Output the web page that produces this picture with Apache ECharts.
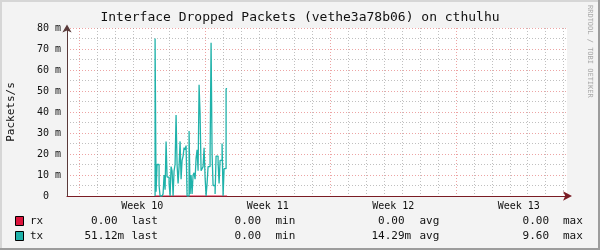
<!DOCTYPE html>
<html><head><meta charset="utf-8">
<script src="https://cdn.jsdelivr.net/npm/echarts@6/dist/echarts.min.js"></script>
<style>html,body{margin:0;padding:0;background:#f3f3f3}#c{width:600px;height:250px}</style>
</head><body><div id="c"></div>
<script>
// ---- data (x in hours from start of Week 10, values in milli-packets/s) ----
const weekLabels = ['Week 10', 'Week 11', 'Week 12', 'Week 13'];
const weekCenterHours = [84, 252, 420, 588];
const dayBoundaryHours = [0,24,48,72,96,120,144,168,192,216,240,264,288,312,336,360,384,408,432,456,480,504,528,552,576,600,624,648];
const axisMinHours = -16.7;
const axisMaxHours = 652.6;
const dataStartHours = 101.2;
const dataStepHours = 1.3387;
const txMilli = [0,75,2,15,15,5,0,0,0,1,10,3,26,9,9,6,0,14,12,0,12,15,38.6,15,6,14,26,8,17,19,23,22,24,0,0,31,1,10,1,10,11,8,18,22,12,53,39,12,13,14,23,9,0,6,14,14,20,73,20,5,5,1,19,19,16,6,17,17,25,0,13,13,51.12];
const rxMilli = txMilli.map(() => 0);
const legendNames = ['rx', 'tx'];
const legendColors = ['#DC143C', '#20B2AA'];
const statNames = ['last', 'min', 'avg', 'max'];
const rxStats = ['0.00', '0.00', '0.00', '0.00'];
const rxUnits = ['', '', '', ''];
const txStats = ['51.12', '0.00', '14.29', '9.60'];
const txUnits = ['m', '', 'm', ''];

const times = txMilli.map((_, i) => dataStartHours + i * dataStepHours);
const MONO = 'DejaVu Sans Mono';
const dayColors = dayBoundaryHours.map((h) => (h % 168 === 0 ? 'rgba(222,90,90,0.55)' : 'rgba(150,150,150,0.6)'));

const chart = echarts.init(document.getElementById('c'), null, {renderer: 'canvas'});

const digitRight = [117.5, 261, 404.5, 549];
const nameLeft = [131.5, 275.5, 419.5, 563];
const rowY = [221, 236];
const graphics = [
  {type: 'rect', shape: {x: 0, y: 0, width: 600, height: 2}, style: {fill: '#d6d6d6'}, silent: true},
  {type: 'rect', shape: {x: 0, y: 0, width: 2, height: 250}, style: {fill: '#d6d6d6'}, silent: true},
  {type: 'rect', shape: {x: 598, y: 0, width: 2, height: 250}, style: {fill: '#9c9c9c'}, silent: true},
  {type: 'rect', shape: {x: 0, y: 248, width: 600, height: 2}, style: {fill: '#9c9c9c'}, silent: true},
  {type: 'text', x: 590, y: 5, rotation: -Math.PI / 2, style: {text: 'RRDTOOL / TOBI OETIKER', font: '7px ' + MONO, fill: '#a8a8a8', align: 'left', verticalAlign: 'middle'}, silent: true},
  {type: 'text', x: 11, y: 112, rotation: Math.PI / 2, style: {text: 'Packets/s', font: '11px ' + MONO, fill: '#111', align: 'center', verticalAlign: 'middle'}, silent: true}
];
legendNames.forEach((name, r) => {
  const stats = r === 0 ? rxStats : txStats;
  const units = r === 0 ? rxUnits : txUnits;
  graphics.push({type: 'rect', shape: {x: 15.5, y: rowY[r] - 4.5, width: 8, height: 9}, style: {fill: legendColors[r], stroke: '#000', lineWidth: 1}, silent: true});
  graphics.push({type: 'text', x: 30, y: rowY[r], style: {text: name, font: '11px ' + MONO, fill: '#111', align: 'left', verticalAlign: 'middle'}, silent: true});
  stats.forEach((s, k) => {
    graphics.push({type: 'text', x: digitRight[k], y: rowY[r], style: {text: s, font: '11px ' + MONO, fill: '#111', align: 'right', verticalAlign: 'middle'}, silent: true});
    if (units[k]) {
      graphics.push({type: 'text', x: digitRight[k], y: rowY[r], style: {text: units[k], font: '11px ' + MONO, fill: '#111', align: 'left', verticalAlign: 'middle'}, silent: true});
    }
    graphics.push({type: 'text', x: nameLeft[k], y: rowY[r], style: {text: statNames[k], font: '11px ' + MONO, fill: '#111', align: 'left', verticalAlign: 'middle'}, silent: true});
  });
});

chart.setOption({
  animation: false,
  backgroundColor: '#f3f3f3',
  title: {text: 'Interface Dropped Packets (vethe3a78b06) on cthulhu', left: 'center', top: 11, padding: 0,
    textStyle: {fontFamily: MONO, fontSize: 13, fontWeight: 'normal', color: '#111'}},
  grid: {left: 67, top: 28, width: 500, height: 168, show: true, backgroundColor: '#ffffff', borderWidth: 0, containLabel: false},
  xAxis: {
    type: 'value', min: axisMinHours, max: axisMaxHours,
    axisLine: {show: true, onZero: false, lineStyle: {color: '#7a1c24', width: 1}, symbol: ['none', 'arrow'], symbolSize: [7, 9], symbolOffset: [0, 5]},
    axisTick: {show: false, customValues: dayBoundaryHours},
    axisLabel: {show: true, customValues: weekCenterHours, formatter: (v) => weekLabels[weekCenterHours.indexOf(v)],
      fontFamily: MONO, fontSize: 10, color: '#111', margin: 5},
    splitLine: {show: true, lineStyle: {color: dayColors, type: [1, 2], width: 1}}
  },
  yAxis: {
    type: 'value', min: 0, max: 80, interval: 10,
    axisLine: {show: true, onZero: false, lineStyle: {color: '#5a3a3a', width: 1}, symbol: ['none', 'arrow'], symbolSize: [7, 8], symbolOffset: [0, 3.5]},
    axisTick: {show: false},
    axisLabel: {fontFamily: MONO, fontSize: 10, color: '#111', margin: 6,
      formatter: (v) => (v === 0 ? '0  ' : v + ' m')},
    splitLine: {show: true, lineStyle: {color: 'rgba(222,90,90,0.55)', type: [1, 2], width: 1}},
    minorTick: {show: false, splitNumber: 2},
    minorSplitLine: {show: true, lineStyle: {color: 'rgba(150,150,150,0.6)', type: [1, 2], width: 1}}
  },
  series: [
    {name: 'rx', type: 'line', step: 'start', showSymbol: false, data: times.map((t, i) => [t, rxMilli[i]]),
      lineStyle: {color: legendColors[0], width: 1}, itemStyle: {color: legendColors[0]}, z: 3},
    {name: 'tx', type: 'line', step: 'start', showSymbol: false, data: times.map((t, i) => [t, txMilli[i]]),
      lineStyle: {color: legendColors[1], width: 1.3}, itemStyle: {color: legendColors[1]}, z: 4}
  ],
  graphic: graphics
});
</script></body></html>
